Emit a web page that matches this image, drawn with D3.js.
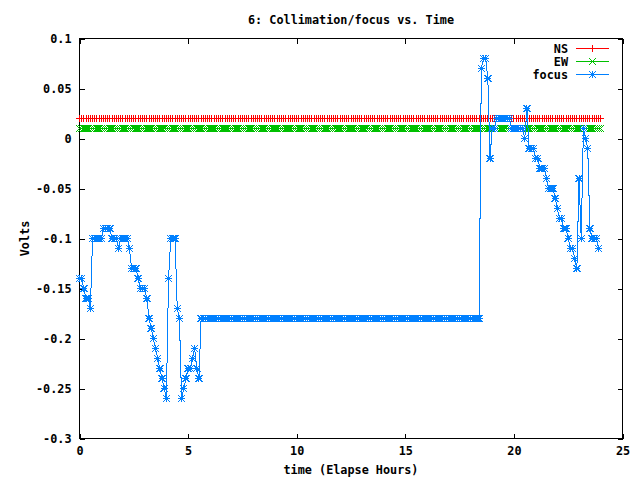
<!DOCTYPE html>
<html>
<head>
<meta charset="utf-8">
<script src="https://cdn.jsdelivr.net/npm/d3@7"></script>
<style>
    body { margin: 0; background: #fff; }
    svg text { font-family: "DejaVu Sans Mono", monospace; font-weight: bold; font-size: 11.8px; fill: #000; }
</style>
</head>
<body>
<svg id="canvas" width="640" height="480"></svg>
<script>

// readings every 0.1 h (6 minutes)
const sampleStep = 0.1;

const nsVolts = [
    0.02,0.02,0.02,0.02,0.02,0.02,0.02,0.02,0.02,0.02,
    0.02,0.02,0.02,0.02,0.02,0.02,0.02,0.02,0.02,0.02,
    0.02,0.02,0.02,0.02,0.02,0.02,0.02,0.02,0.02,0.02,
    0.02,0.02,0.02,0.02,0.02,0.02,0.02,0.02,0.02,0.02,
    0.02,0.02,0.02,0.02,0.02,0.02,0.02,0.02,0.02,0.02,
    0.02,0.02,0.02,0.02,0.02,0.02,0.02,0.02,0.02,0.02,
    0.02,0.02,0.02,0.02,0.02,0.02,0.02,0.02,0.02,0.02,
    0.02,0.02,0.02,0.02,0.02,0.02,0.02,0.02,0.02,0.02,
    0.02,0.02,0.02,0.02,0.02,0.02,0.02,0.02,0.02,0.02,
    0.02,0.02,0.02,0.02,0.02,0.02,0.02,0.02,0.02,0.02,
    0.02,0.02,0.02,0.02,0.02,0.02,0.02,0.02,0.02,0.02,
    0.02,0.02,0.02,0.02,0.02,0.02,0.02,0.02,0.02,0.02,
    0.02,0.02,0.02,0.02,0.02,0.02,0.02,0.02,0.02,0.02,
    0.02,0.02,0.02,0.02,0.02,0.02,0.02,0.02,0.02,0.02,
    0.02,0.02,0.02,0.02,0.02,0.02,0.02,0.02,0.02,0.02,
    0.02,0.02,0.02,0.02,0.02,0.02,0.02,0.02,0.02,0.02,
    0.02,0.02,0.02,0.02,0.02,0.02,0.02,0.02,0.02,0.02,
    0.02,0.02,0.02,0.02,0.02,0.02,0.02,0.02,0.02,0.02,
    0.02,0.02,0.02,0.02,0.02,0.02,0.02,0.02,0.02,0.02,
    0.02,0.02,0.02,0.02,0.02,0.02,0.02,0.02,0.02,0.02,
    0.02,0.02,0.02,0.02,0.02,0.02,0.02,0.02,0.02,0.02,
    0.02,0.02,0.02,0.02,0.02,0.02,0.02,0.02,0.02,0.02,
    0.02,0.02,0.02,0.02,0.02,0.02,0.02,0.02,0.02,0.02,
    0.02,0.02,0.02,0.02,0.02,0.02,0.02,0.02,0.02,0.02,
    0.02
];

const ewVolts = [
    0.01,0.01,0.01,0.01,0.01,0.01,0.01,0.01,0.01,0.01,
    0.01,0.01,0.01,0.01,0.01,0.01,0.01,0.01,0.01,0.01,
    0.01,0.01,0.01,0.01,0.01,0.01,0.01,0.01,0.01,0.01,
    0.01,0.01,0.01,0.01,0.01,0.01,0.01,0.01,0.01,0.01,
    0.01,0.01,0.01,0.01,0.01,0.01,0.01,0.01,0.01,0.01,
    0.01,0.01,0.01,0.01,0.01,0.01,0.01,0.01,0.01,0.01,
    0.01,0.01,0.01,0.01,0.01,0.01,0.01,0.01,0.01,0.01,
    0.01,0.01,0.01,0.01,0.01,0.01,0.01,0.01,0.01,0.01,
    0.01,0.01,0.01,0.01,0.01,0.01,0.01,0.01,0.01,0.01,
    0.01,0.01,0.01,0.01,0.01,0.01,0.01,0.01,0.01,0.01,
    0.01,0.01,0.01,0.01,0.01,0.01,0.01,0.01,0.01,0.01,
    0.01,0.01,0.01,0.01,0.01,0.01,0.01,0.01,0.01,0.01,
    0.01,0.01,0.01,0.01,0.01,0.01,0.01,0.01,0.01,0.01,
    0.01,0.01,0.01,0.01,0.01,0.01,0.01,0.01,0.01,0.01,
    0.01,0.01,0.01,0.01,0.01,0.01,0.01,0.01,0.01,0.01,
    0.01,0.01,0.01,0.01,0.01,0.01,0.01,0.01,0.01,0.01,
    0.01,0.01,0.01,0.01,0.01,0.01,0.01,0.01,0.01,0.01,
    0.01,0.01,0.01,0.01,0.01,0.01,0.01,0.01,0.01,0.01,
    0.01,0.01,0.01,0.01,0.01,0.01,0.01,0.01,0.01,0.01,
    0.01,0.01,0.01,0.01,0.01,0.01,0.01,0.01,0.01,0.01,
    0.01,0.01,0.01,0.01,0.01,0.01,0.01,0.01,0.01,0.01,
    0.01,0.01,0.01,0.01,0.01,0.01,0.01,0.01,0.01,0.01,
    0.01,0.01,0.01,0.01,0.01,0.01,0.01,0.01,0.01,0.01,
    0.01,0.01,0.01,0.01,0.01,0.01,0.01,0.01,0.01,0.01,
    0.01
];

// one row per hour
const focusVolts = [
    -0.14,-0.14,-0.15,-0.16,-0.16,-0.17,-0.10,-0.10,-0.10,-0.10,
    -0.10,-0.09,-0.09,-0.09,-0.09,-0.10,-0.10,-0.10,-0.11,-0.10,
    -0.10,-0.10,-0.10,-0.11,-0.13,-0.13,-0.13,-0.14,-0.15,-0.15,
    -0.15,-0.16,-0.18,-0.19,-0.20,-0.21,-0.22,-0.23,-0.24,-0.25,
    -0.26,-0.14,-0.10,-0.10,-0.10,-0.17,-0.18,-0.26,-0.25,-0.24,
    -0.23,-0.23,-0.22,-0.21,-0.23,-0.24,-0.18,-0.18,-0.18,-0.18,
    -0.18,-0.18,-0.18,-0.18,-0.18,-0.18,-0.18,-0.18,-0.18,-0.18,
    -0.18,-0.18,-0.18,-0.18,-0.18,-0.18,-0.18,-0.18,-0.18,-0.18,
    -0.18,-0.18,-0.18,-0.18,-0.18,-0.18,-0.18,-0.18,-0.18,-0.18,
    -0.18,-0.18,-0.18,-0.18,-0.18,-0.18,-0.18,-0.18,-0.18,-0.18,
    -0.18,-0.18,-0.18,-0.18,-0.18,-0.18,-0.18,-0.18,-0.18,-0.18,
    -0.18,-0.18,-0.18,-0.18,-0.18,-0.18,-0.18,-0.18,-0.18,-0.18,
    -0.18,-0.18,-0.18,-0.18,-0.18,-0.18,-0.18,-0.18,-0.18,-0.18,
    -0.18,-0.18,-0.18,-0.18,-0.18,-0.18,-0.18,-0.18,-0.18,-0.18,
    -0.18,-0.18,-0.18,-0.18,-0.18,-0.18,-0.18,-0.18,-0.18,-0.18,
    -0.18,-0.18,-0.18,-0.18,-0.18,-0.18,-0.18,-0.18,-0.18,-0.18,
    -0.18,-0.18,-0.18,-0.18,-0.18,-0.18,-0.18,-0.18,-0.18,-0.18,
    -0.18,-0.18,-0.18,-0.18,-0.18,-0.18,-0.18,-0.18,-0.18,-0.18,
    -0.18,-0.18,-0.18,-0.18,-0.18, 0.07, 0.08, 0.08, 0.06,-0.02,
     0.01, 0.01, 0.02, 0.02, 0.02, 0.02, 0.02, 0.02, 0.02, 0.01,
     0.01, 0.01, 0.01, 0.01, 0.01, 0.00, 0.03,-0.01,-0.01,-0.01,
    -0.02,-0.02,-0.03,-0.03,-0.03,-0.04,-0.05,-0.05,-0.05,-0.06,
    -0.07,-0.08,-0.08,-0.09,-0.09,-0.10,-0.11,-0.11,-0.12,-0.13,
    -0.04,-0.10, 0.01, 0.00,-0.01,-0.09,-0.10,-0.10,-0.10,-0.11
];

const xTicks = [0, 5, 10, 15, 20, 25];
const xTickLabels = ['0', '5', '10', '15', '20', '25'];
const yTicks = [0.1, 0.05, 0, -0.05, -0.1, -0.15, -0.2, -0.25, -0.3];
const yTickLabels = ['0.1', '0.05', '0', '-0.05', '-0.1', '-0.15', '-0.2', '-0.25', '-0.3'];

const seriesNames = ['NS', 'EW', 'focus'];
const seriesColors = ['#ff0000', '#00c000', '#0080ff'];
const seriesShapes = ['plus', 'cross', 'star'];

const titleText = '6: Collimation/focus vs. Time';
const xLabelText = 'time (Elapse Hours)';
const yLabelText = 'Volts';

const svg = d3.select('#canvas');
const plotLeft = 79.5, plotRight = 622.5, plotTop = 38.5, plotBottom = 438.5;

const xScale = d3.scaleLinear().domain([0, 25]).range([plotLeft, plotRight]);
const yScale = d3.scaleLinear().domain([-0.3, 0.1]).range([plotBottom, plotTop]);

// marker shapes, gnuplot style
function markerPath(shape, s) {
    if (shape == 'plus')
        return `M${-s},0H${s}M0,${-s}V${s}`;
    if (shape == 'cross')
        return `M${-s},${-s}L${s},${s}M${-s},${s}L${s},${-s}`;
    return `M${-s},0H${s}M0,${-s}V${s}M${-s},${-s}L${s},${s}M${-s},${s}L${s},${-s}`;
}

// axes, ticks pointing inwards and mirrored
const axisFmt = (labels, ticks) => (d) => labels[ticks.indexOf(d)];

svg.append('g')
    .attr('transform', `translate(0,${plotBottom})`)
    .call(d3.axisBottom(xScale).tickValues(xTicks)
        .tickFormat(axisFmt(xTickLabels, xTicks))
        .tickSizeInner(-5).tickSizeOuter(0).tickPadding(8));
svg.append('g')
    .attr('transform', `translate(0,${plotTop})`)
    .call(d3.axisTop(xScale).tickValues(xTicks).tickFormat('')
        .tickSizeInner(-5).tickSizeOuter(0));
svg.append('g')
    .attr('transform', `translate(${plotLeft},0)`)
    .call(d3.axisLeft(yScale).tickValues(yTicks)
        .tickFormat(axisFmt(yTickLabels, yTicks))
        .tickSizeInner(-5).tickSizeOuter(0).tickPadding(8));
svg.append('g')
    .attr('transform', `translate(${plotRight},0)`)
    .call(d3.axisRight(yScale).tickValues(yTicks).tickFormat('')
        .tickSizeInner(-5).tickSizeOuter(0));

svg.selectAll('.domain').remove();
svg.selectAll('.tick line').attr('stroke', '#000').attr('shape-rendering', 'crispEdges');
svg.selectAll('.tick text')
    .attr('font-family', null).attr('font-size', null).attr('fill', '#000');

svg.append('rect')
    .attr('x', plotLeft).attr('y', plotTop)
    .attr('width', plotRight - plotLeft).attr('height', plotBottom - plotTop)
    .attr('fill', 'none').attr('stroke', '#000')
    .attr('shape-rendering', 'crispEdges');

// series
const allSeries = [nsVolts, ewVolts, focusVolts];
const line = d3.line()
    .x((d, i) => xScale(i * sampleStep))
    .y(d => yScale(d));

allSeries.forEach((vals, k) => {
    const g = svg.append('g').attr('class', 'series-' + seriesNames[k]);
    g.append('path')
        .datum(vals)
        .attr('d', line)
        .attr('fill', 'none')
        .attr('stroke', seriesColors[k])
        .attr('stroke-width', 1)
        .attr('shape-rendering', 'crispEdges');
    g.selectAll('path.pt')
        .data(vals)
        .enter().append('path')
        .attr('class', 'pt')
        .attr('transform', (d, i) => `translate(${xScale(i * sampleStep)},${yScale(d)})`)
        .attr('d', markerPath(seriesShapes[k], 3.5))
        .attr('fill', 'none')
        .attr('stroke', seriesColors[k])
        .attr('shape-rendering', 'crispEdges');
});

// legend
const legend = svg.append('g');
const legendRows = legend.selectAll('g')
    .data(seriesNames)
    .enter().append('g')
    .attr('transform', (d, i) => `translate(0,${48.5 + i * 13})`);
legendRows.append('text')
    .attr('x', 568)
    .attr('text-anchor', 'end')
    .attr('dy', '0.35em')
    .text(d => d);
legendRows.append('line')
    .attr('x1', 576).attr('x2', 609)
    .attr('stroke', (d, i) => seriesColors[i])
    .attr('shape-rendering', 'crispEdges');
legendRows.append('path')
    .attr('transform', 'translate(592.5,0)')
    .attr('d', (d, i) => markerPath(seriesShapes[i], 3.5))
    .attr('fill', 'none')
    .attr('stroke', (d, i) => seriesColors[i])
    .attr('shape-rendering', 'crispEdges');

// titles
svg.append('text')
    .attr('x', 351).attr('y', 20).attr('dy', '0.35em')
    .attr('text-anchor', 'middle')
    .text(titleText);
svg.append('text')
    .attr('x', (plotLeft + plotRight) / 2).attr('y', 470).attr('dy', '0.35em')
    .attr('text-anchor', 'middle')
    .text(xLabelText);
svg.append('text')
    .attr('transform', `translate(25,${(plotTop + plotBottom) / 2}) rotate(-90)`)
    .attr('dy', '0.35em')
    .attr('text-anchor', 'middle')
    .text(yLabelText);

</script>
</body>
</html>
